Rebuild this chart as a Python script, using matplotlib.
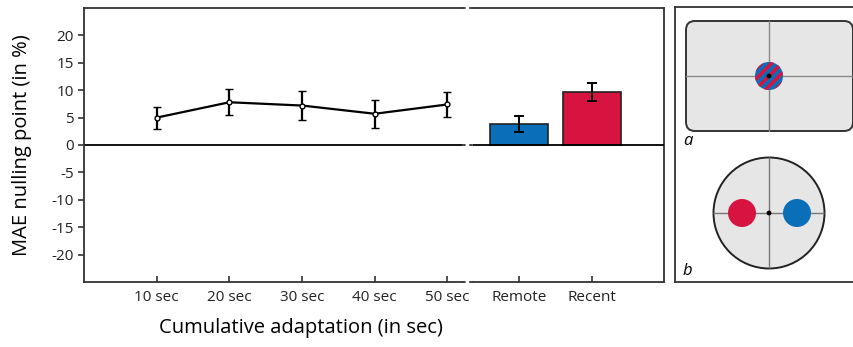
import matplotlib
matplotlib.use("Agg")
import matplotlib.pyplot as plt
from matplotlib.patches import Circle, FancyBboxPatch
from matplotlib.lines import Line2D

# ----------------------------
# Data
# ----------------------------
durations = ["10 sec", "20 sec", "30 sec", "40 sec", "50 sec"]
duration_means = [5.0, 7.8, 7.2, 5.7, 7.4]
duration_errs = [2.0, 2.4, 2.6, 2.6, 2.3]

conditions = ["Remote", "Recent"]
condition_means = [3.8, 9.6]
condition_errs = [1.5, 1.65]

y_ticks = [-20, -15, -10, -5, 0, 5, 10, 15, 20]

# ----------------------------
# Style
# ----------------------------
BLUE = "#0a6eb8"
RED = "#d6143f"
PANEL_GRAY = "#e6e6e7"
SPINE = "#333333"

plt.rcParams['font.family'] = ['Open Sans', 'DejaVu Sans']
plt.rcParams['axes.unicode_minus'] = False

W, H = 854, 347
fig = plt.figure(figsize=(W / 100, H / 100), dpi=100)


def px_rect(x0, y0, x1, y1):
    # pixel box (top-left origin) -> figure fraction
    return [x0 / W, 1 - y1 / H, (x1 - x0) / W, (y1 - y0) / H]


ax1 = fig.add_axes(px_rect(84, 8, 462, 282))
ax2 = fig.add_axes(px_rect(473, 8, 664, 282))

# ----------------------------
# Left part: line with error bars
# ----------------------------
xpos = list(range(1, len(durations) + 1))
ax1.errorbar(xpos, duration_means, yerr=duration_errs, color="black", lw=1.6,
             elinewidth=1.6, capsize=3, capthick=1.6, marker="o", ms=3.5,
             mfc="white", mec="black", mew=1.0, zorder=3)
ax1.axhline(0, color="black", lw=1.3)
ax1.set_xlim(0, 5.2)
ax1.set_ylim(-25, 25)
ax1.set_xticks(xpos)
ax1.set_xticklabels(durations)
ax1.set_yticks(y_ticks)
ax1.set_ylabel("MAE nulling point (in %)", fontsize=14.5)
ax1.yaxis.set_label_coords(-0.138, 0.5)
ax1.set_xlabel("Cumulative adaptation (in sec)", fontsize=14.5)
ax1.xaxis.set_label_coords(0.575, -0.13)
ax1.spines['right'].set_visible(False)

# ----------------------------
# Right part: bars
# ----------------------------
bpos = list(range(1, len(conditions) + 1))
ax2.bar(bpos, condition_means, width=0.8, color=[BLUE, RED], edgecolor="#222222",
        lw=1.2, zorder=2)
ax2.errorbar(bpos, condition_means, yerr=condition_errs, fmt="none", ecolor="black",
             elinewidth=1.4, capsize=3.5, capthick=1.4, zorder=3)
ax2.axhline(0, color="black", lw=1.3, zorder=3)
ax2.set_xlim(0.37, 2.99)
ax2.set_ylim(-25, 25)
ax2.set_xticks(bpos)
ax2.set_xticklabels(conditions)
ax2.set_yticks([])
ax2.spines['left'].set_visible(False)

for ax in (ax1, ax2):
    for s in ax.spines.values():
        s.set_color(SPINE)
        s.set_linewidth(1.3)
    ax.tick_params(axis="x", direction="in", length=4, width=1.1, labelsize=11, pad=6,
                   colors="#222222")
    ax.tick_params(axis="y", direction="out", length=4, width=1.1, labelsize=11,
                   colors="#222222")

# axis break marks between the two parts
for yy in (8, 145, 282):
    fig.add_artist(Line2D([462 / W, 473 / W], [1 - yy / H, 1 - yy / H],
                          color=SPINE, lw=1.3, ls=(0, (2, 2))))

# ----------------------------
# Stimulus schematic
# ----------------------------
ax3 = fig.add_axes(px_rect(675, 7, 860, 282))
ax3.set_xlim(675, 860)
ax3.set_ylim(282, 7)
ax3.set_xticks([])
ax3.set_yticks([])
for s in ax3.spines.values():
    s.set_color(SPINE)
    s.set_linewidth(1.3)

# panel a: screen with striped disc
screen = FancyBboxPatch((686, 21), 167, 110, boxstyle="round,pad=0,rounding_size=9",
                        fc=PANEL_GRAY, ec="#333333", lw=1.4)
ax3.add_patch(screen)
ax3.plot([769, 769], [21, 131], color="#888888", lw=1.0)
ax3.plot([686, 853], [76, 76], color="#888888", lw=1.0)
mixed = Circle((769, 76), 14, fc=BLUE, ec="none", zorder=3)
ax3.add_patch(mixed)
for k in range(-4, 5):
    off = k * 7.2
    stripe, = ax3.plot([769 + off / 1.414 - 25, 769 + off / 1.414 + 25],
                       [76 + off / 1.414 + 25, 76 + off / 1.414 - 25],
                       color=RED, lw=2.5, solid_capstyle="butt", zorder=3)
    stripe.set_clip_path(mixed)
ax3.add_patch(Circle((769, 76), 2.4, fc="black", ec="none", zorder=5))
ax3.text(683, 141, "a", style="italic", fontsize=12, va="center", ha="left")

# panel b: round display with two discs
disc = Circle((769, 213), 55.5, fc=PANEL_GRAY, ec="#222222", lw=1.4)
ax3.add_patch(disc)
vline, = ax3.plot([769, 769], [150, 276], color="#777777", lw=1.0)
hline, = ax3.plot([710, 828], [213, 213], color="#777777", lw=1.0)
vline.set_clip_path(disc)
hline.set_clip_path(disc)
ax3.add_patch(Circle((742, 213), 14, fc=RED, ec="none", zorder=3))
ax3.add_patch(Circle((797, 213), 14, fc=BLUE, ec="none", zorder=3))
ax3.add_patch(Circle((769, 213), 2.4, fc="black", ec="none", zorder=5))
ax3.text(683, 271, "b", style="italic", fontsize=12, va="center", ha="left")

fig.savefig("out.png", dpi=100)
